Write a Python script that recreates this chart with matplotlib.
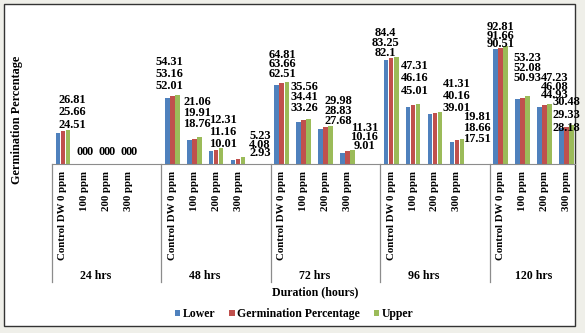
import numpy as np
import matplotlib
matplotlib.use("Agg")
from matplotlib import pyplot as plt
from matplotlib.patches import Rectangle
from matplotlib import transforms

plt.rcParams['font.family'] = ['Liberation Serif', 'DejaVu Serif']
plt.rcParams['font.weight'] = 'bold'

# data
durations = ['24 hrs', '48 hrs', '72 hrs', '96 hrs', '120 hrs']
treatments = ['Control DW 0 ppm', '100 ppm', '200 ppm', '300 ppm']
series_names = ['Lower', 'Germination Percentage', 'Upper']

lower = [24.51, 0, 0, 0,
         52.01, 18.76, 10.01, 2.93,
         62.51, 33.26, 27.68, 9.01,
         82.1, 45.01, 39.01, 17.51,
         90.51, 50.93, 44.93, 28.18]
germination = [25.66, 0, 0, 0,
               53.16, 19.91, 11.16, 4.08,
               63.66, 34.41, 28.83, 10.16,
               83.25, 46.16, 40.16, 18.66,
               91.66, 52.08, 46.08, 29.33]
upper = [26.81, 0, 0, 0,
         54.31, 21.06, 12.31, 5.23,
         64.81, 35.56, 29.98, 11.31,
         84.4, 47.31, 41.31, 19.81,
         92.81, 53.23, 47.23, 30.48]

colors = ['#4f81bd', '#c0504d', '#9bbb59']

# label stack placement per category (pixels): shift right, gap above bars, line step
label_dx = [9, 0, 0, 0, -3, 3, 7, 22, 1, 1, 13, 17, -6, 2, 22, 20, 0, 5, 10, 0]
label_gap = [5, 12, 12, 12, 9, 13, 4, 4, 8, 11, 5, 4, 4, 13, 3.5, 0, 2, 18, 9, -3]
label_step = [12.5, 0, 0, 0, 12, 11, 12, 8.5, 9.5, 10.5, 10, 9, 10, 12.5, 12, 11, 8.5, 10, 8.5, 13]

W, H = 585, 333
fig = plt.figure(figsize=(W / 100, H / 100), dpi=100)
fig.patch.set_facecolor('#efefe9')
fig.patches.append(Rectangle((4 / W, 7 / H), 571 / W, 322 / H, transform=fig.transFigure,
                             facecolor='white', edgecolor='#333333', lw=1.0, zorder=-5))

ax = fig.add_axes([52 / W, 169 / H, 523 / W, 127 / H])
ax.patch.set_alpha(0)

pos = np.array([5 * g + k for g in range(len(durations)) for k in range(len(treatments))])
pitch = 0.23
offsets = [-pitch, 0, pitch]
all_vals = [lower, germination, upper]
for vals, off, c, name in zip(all_vals, offsets, colors, series_names):
    ax.bar(pos + off, vals, width=0.21, color=c, label=name, zorder=2)

px = 72 / 100
for i, x in enumerate(pos):
    top = max(v[i] for v in all_vals)
    for j, vals in enumerate(all_vals):
        if label_step[i] == 0:
            xy, dx, dy = (x + offsets[j], top), 0, label_gap[i]
        else:
            xy, dx, dy = (x, top), label_dx[i], label_gap[i] + j * label_step[i]
        ax.annotate(f"{vals[i]:g}", xy=xy, xytext=(dx * px, dy * px), textcoords='offset points',
                    ha='center', va='center', fontsize=8.9, fontweight='bold',
                    annotation_clip=False, zorder=3)

ax.set_xlim(-0.5, 23.4)
ax.set_ylim(0, 100)
for s in ['left', 'right', 'top']:
    ax.spines[s].set_visible(False)
ax.spines['bottom'].set_color('#8c8c8c')
ax.set_yticks([])
ax.set_xticks(pos, labels=treatments * len(durations), rotation=90, fontsize=7.8, fontweight='bold')
ax.tick_params(axis='x', length=0, pad=5)

trans = transforms.blended_transform_factory(ax.transData, ax.transAxes)
for g, d in enumerate(durations):
    ax.plot([5 * g - 0.5, 5 * g - 0.5], [0, -0.93], color='#8c8c8c', lw=0.9,
            transform=trans, clip_on=False)
    ax.text(5 * g + 1.5, -0.882, d, transform=trans, ha='center', va='center',
            fontsize=8.6, fontweight='bold')

fig.text(17 / W, 1 - 120 / H, 'Germination Percentage', rotation=90, ha='center', va='center',
         fontsize=8.8, fontweight='bold')
fig.text(315 / W, 1 - 292 / H, 'Duration (hours)', ha='center', va='center',
         fontsize=8.6, fontweight='bold')

fig.legend(loc='center', bbox_to_anchor=(294 / W, 1 - 314 / H), ncol=3, frameon=False,
           handlelength=0.45, handleheight=0.45, handletextpad=0.2, columnspacing=1.2,
           prop={'size': 8.5, 'weight': 'bold'})

fig.savefig('out.png', dpi=100, facecolor=fig.get_facecolor())
